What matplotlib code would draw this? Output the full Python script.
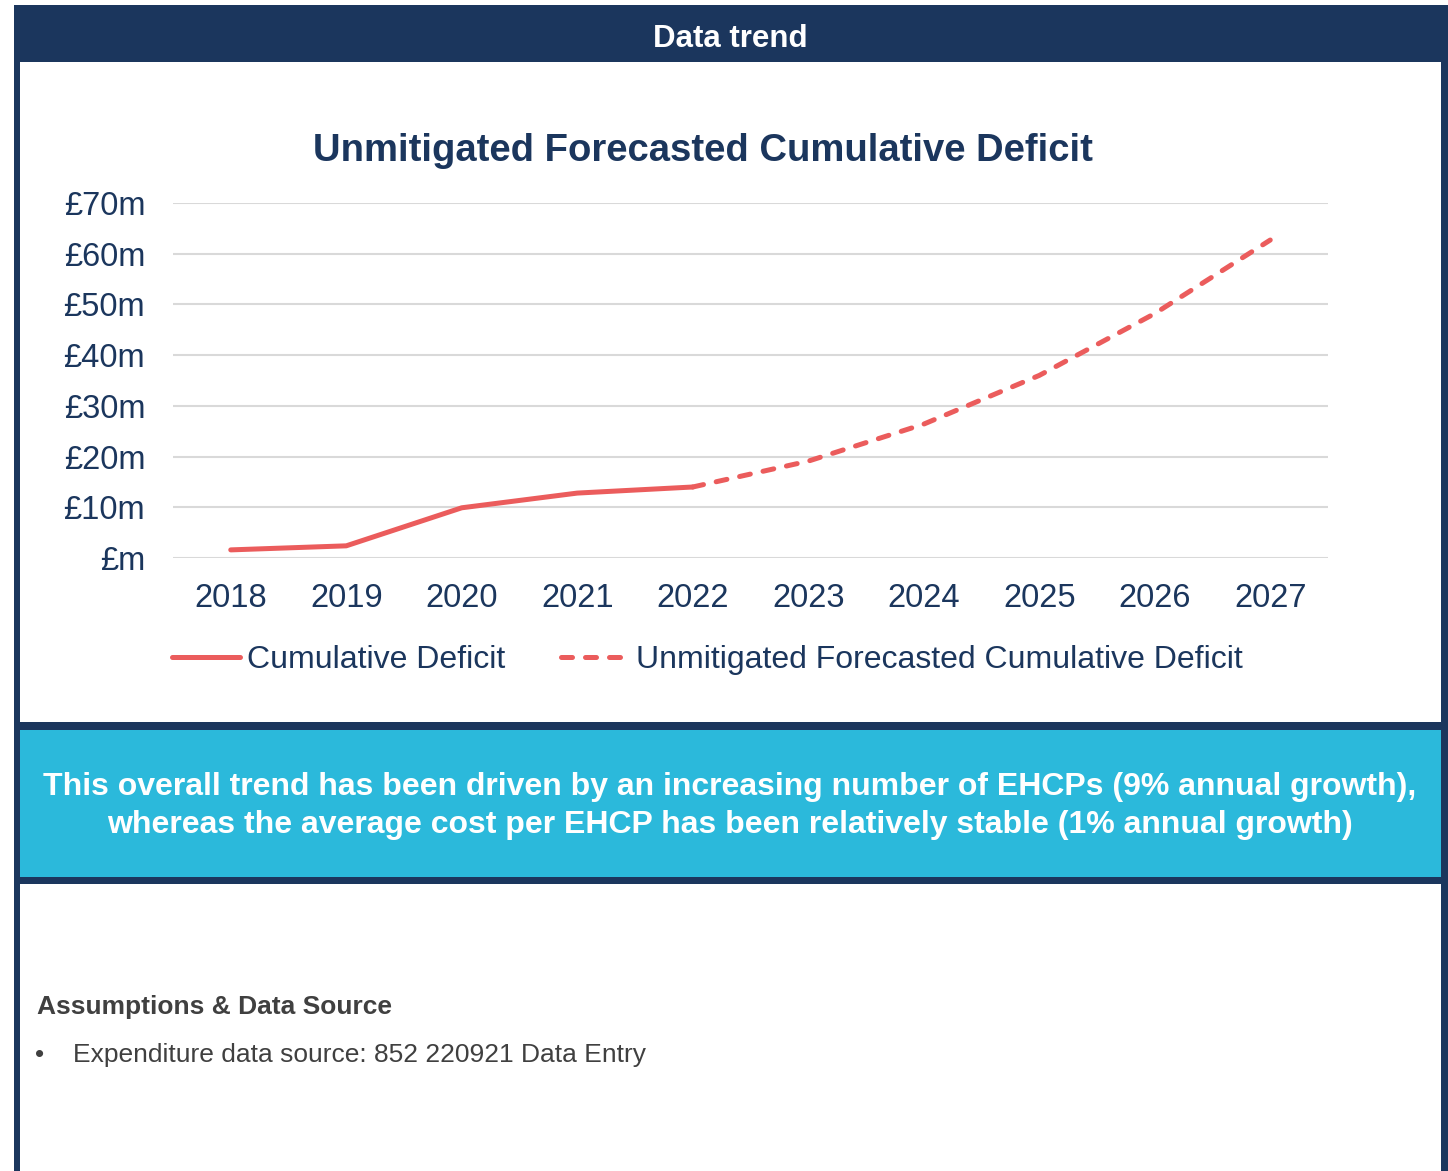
import matplotlib.pyplot as plt
from matplotlib.patches import Rectangle
from matplotlib.lines import Line2D

# data (£m)
years = [2018, 2019, 2020, 2021, 2022, 2023, 2024, 2025, 2026, 2027]
actual_years = [2018, 2019, 2020, 2021, 2022]
actual_deficit = [1.6, 2.4, 9.9, 12.8, 14.0]
forecast_years = [2022, 2023, 2024, 2025, 2026, 2027]
forecast_deficit = [14.0, 19.1, 26.4, 36.0, 48.2, 62.7]
y_ticks = [0, 10, 20, 30, 40, 50, 60, 70]
y_labels = ['£m', '£10m', '£20m', '£30m', '£40m', '£50m', '£60m', '£70m']

navy = '#1B365D'
cyan = '#2BB9DB'
red = '#EB5C5C'
grey_text = '#404040'
W, H = 1448, 1171

plt.rcParams['font.family'] = ['Liberation Sans', 'DejaVu Sans']
fig = plt.figure(figsize=(W / 100, H / 100), dpi=100)
fig.patch.set_facecolor('white')


def box(x, y, w, h, color):
    # pixel box (top-left origin) -> figure coords
    fig.add_artist(Rectangle((x / W, 1 - (y + h) / H), w / W, h / H,
                             transform=fig.transFigure, facecolor=color,
                             edgecolor='none', zorder=-2))


def ftext(x, y, s, **kw):
    fig.text(x / W, 1 - y / H, s, **kw)


# panel frame
box(14, 5, 1434, 1171, navy)
box(20, 62, 1421, 660, 'white')
box(20, 730, 1421, 147, cyan)
box(20, 884, 1421, 300, 'white')

ftext(730, 39, 'Data trend', color='white', fontsize=22.5, fontweight='bold',
      ha='center', va='center')

# chart
ax = fig.add_axes([173 / W, 1 - 558 / H, (1328 - 173) / W, (558 - 203) / H])
ax.set_facecolor('none')
ax.plot(actual_years, actual_deficit, color=red, lw=3.6,
        solid_capstyle='round', solid_joinstyle='round')
ax.plot(forecast_years, forecast_deficit, color=red, lw=3.6,
        dashes=(2.2, 2.6), dash_capstyle='round')
ax.set_xlim(2017.5, 2027.5)
ax.set_ylim(0, 70)
ax.set_yticks(y_ticks)
ax.set_yticklabels(y_labels)
ax.set_xticks(years)
ax.grid(axis='y', color='#D9D9D9', lw=1.5)
ax.set_axisbelow(True)
for s in ax.spines.values():
    s.set_visible(False)
ax.tick_params(length=0, labelsize=23.5, colors=navy)
ax.tick_params(axis='x', pad=18)
ax.tick_params(axis='y', pad=20)

ftext(703, 151, 'Unmitigated Forecasted Cumulative Deficit', color=navy,
      fontsize=27.5, fontweight='bold', ha='center', va='center')

handles = [Line2D([], [], color=red, lw=3.6, solid_capstyle='round'),
           Line2D([], [], color=red, lw=3.6, dashes=(2.2, 2.6), dash_capstyle='round')]
leg = fig.legend(handles, ['Cumulative Deficit', 'Unmitigated Forecasted Cumulative Deficit'],
                 loc='center left', bbox_to_anchor=(143 / W, 1 - 660 / H), ncol=2,
                 frameon=False, fontsize=23, handlelength=2.15, handletextpad=0.2,
                 columnspacing=1.75, labelcolor=navy)

# callout box
ftext(730, 806, 'This overall trend has been driven by an increasing number of EHCPs (9% annual growth),\n'
      'whereas the average cost per EHCP has been relatively stable (1% annual growth)',
      color='white', fontsize=23, fontweight='bold', ha='center', va='center', linespacing=1.36)

ftext(37, 1007, 'Assumptions & Data Source', color=grey_text, fontsize=19,
      fontweight='bold', va='center')
ftext(35, 1055, '•', color=grey_text, fontsize=19, va='center')
ftext(73, 1055, 'Expenditure data source: 852 220921 Data Entry', color=grey_text,
      fontsize=19, va='center')

fig.savefig('out.png', dpi=100)
